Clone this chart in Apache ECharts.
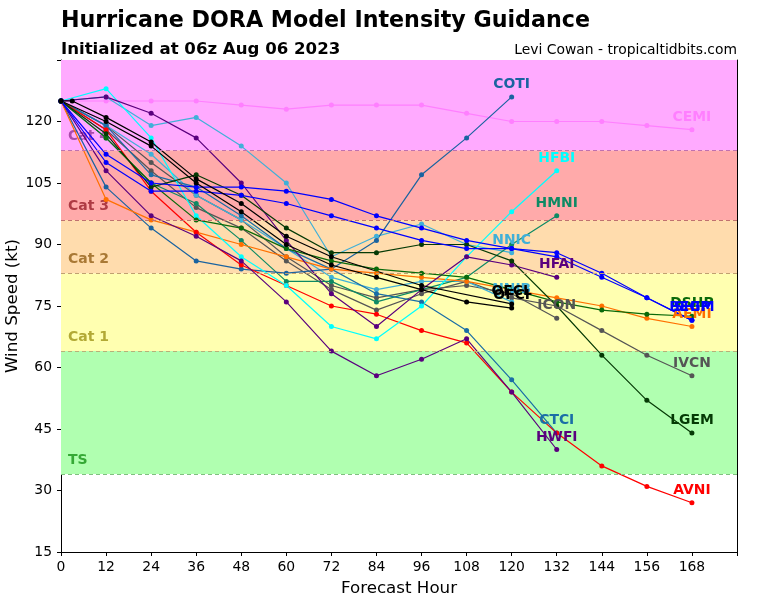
<!DOCTYPE html>
<html><head><meta charset="utf-8">
<script src="https://cdn.jsdelivr.net/npm/echarts/dist/echarts.min.js"></script>
<style>html,body{margin:0;padding:0;background:#fff}#c{width:768px;height:600px}</style>
</head><body><div id="c"></div>
<script>
// ---- data ----
const hours = [0,12,24,36,48,60,72,84,96,108,120,132,144,156,168];
const xTicks = [0,12,24,36,48,60,72,84,96,108,120,132,144,156,168];
const yTicks = [15,30,45,60,75,90,105,120];

const CEMI = [125,125,125,125,124,123,124,124,124,122,120,120,120,119,118];
const COTI = [125,104,94,86,84,83,84,91,107,116,126];
const CTCI = [125,119,107,104,97,89,84,78,76,69,57,44];
const HFBI = [125,128,116,97,87,80,70,67,75,87,98,108];
const HMNI = [125,116,105,100,91,81,81,76,79,82,90,97];
const NNIC = [125,126,119,121,114,105,87,92,95,90,88];
const NNIB = [125,119,112,102,96,89,82,79,81,81,76];
const HFAI = [125,126,122,116,105,91,78,70,79,87,85,82];
const HWFI = [125,108,97,92,86,76,64,58,62,67,54,40];
const OFCL_hours = [0,3,12,24,36,48,60,72,96,120];
const OFCL = [125,125,121,115,106,100,92,87,80,75.5];
const OFCI = [125,120,114,105,98,90,85,82,79,76,74.5];
const ICON = [125,119,110,102,96,87,80,77,79,80,78,72];
const IVCN = [125,118,108,99,94,86,79,74,78,81,77,75,69,63,58];
const LGEM = [125,117,104,107,102,94,88,88,90,90,86,75,63,52,44];
const DSHP = [125,116,105,96,94,89,86,84,83,82,79,76,74,73,72.5];
const SHIP = [125,112,105,104,104,103,101,97,94,91,89,88,83,77,71.5];
const BEGM = [125,110,103,103,102,100,97,94,91,89,89,87,82,77,71.5];
const AEMI = [125,101,96,93,90,87,84,83,82,81,79,77,75,72,70];
const AVNI = [125,118,103,93,85,80,75,73,69,66,54,44,36,31,27];

const bandNames = ['TS','Cat 1','Cat 2','Cat 3','Cat 4'];
const bandLow  = [34,64,83,96,113];
const bandHigh = [64,83,96,113,135];

// ---- styles ----
const bandFill = ['#b0ffb0','#ffffb0','#ffdcad','#ffaaaa','#ffaaff'];
const bandText = ['rgba(40,160,40,0.9)','rgba(170,160,40,0.9)','rgba(160,110,40,0.9)','rgba(160,40,50,0.85)','rgba(150,50,150,0.8)'];
const bandEdge = ['#80c080','#b8b078','#c0a070','#c07070','#c070b0'];

const models = [
  ['CEMI', CEMI, null, '#ff7fff'],
  ['ICON', ICON, null, '#555555'],
  ['IVCN', IVCN, null, '#555555'],
  ['NNIB', NNIB, null, '#40b0d8'],
  ['NNIC', NNIC, null, '#40b0d8'],
  ['HMNI', HMNI, null, '#0e8a64'],
  ['CTCI', CTCI, null, '#1a6ea6'],
  ['COTI', COTI, null, '#1a63a0'],
  ['AEMI', AEMI, null, '#ff7000'],
  ['AVNI', AVNI, null, '#ff0000'],
  ['HFBI', HFBI, null, '#00ffff'],
  ['HWFI', HWFI, null, '#5a007e'],
  ['HFAI', HFAI, null, '#5a007e'],
  ['DSHP', DSHP, null, '#0a6a0a'],
  ['LGEM', LGEM, null, '#053a05'],
  ['SHIP', SHIP, null, '#0000ff'],
  ['BEGM', BEGM, null, '#0000ff'],
  ['OFCL', OFCL, OFCL_hours, '#000000'],
  ['OFCI', OFCI, null, '#000000']
];

const FF = 'DejaVu Sans';
const series = [];

// background bands
series.push({
  type: 'line', data: [], silent: true, z: 0,
  markArea: {
    silent: true,
    data: bandNames.map((n, i) => [
      { yAxis: bandLow[i], xAxis: 0, name: n,
        itemStyle: { color: bandFill[i] },
        label: { show: true, position: 'insideBottomLeft', distance: 7, color: bandText[i], fontFamily: FF, fontWeight: 'bold', fontSize: 14 } },
      { yAxis: bandHigh[i], xAxis: 180 }
    ])
  },
  markLine: {
    silent: true, symbol: 'none',
    label: { show: false },
    data: bandLow.map((v, i) => ({ yAxis: v, lineStyle: { color: bandEdge[i], type: [4, 3], width: 1.2 } }))
  }
});

models.forEach(([name, vals, hrs, color]) => {
  const h = hrs || hours;
  const data = vals.map((v, i) => {
    const item = { value: [h[i], v] };
    if (i === vals.length - 1) {
      item.label = { show: true, position: 'top', distance: 3, formatter: name, color: color,
        fontFamily: FF, fontWeight: 'bold', fontSize: 13.9 };
    }
    return item;
  });
  series.push({
    name, type: 'line', data, z: 3,
    symbol: 'circle', symbolSize: 5, showSymbol: true,
    lineStyle: { color, width: 1.2 },
    itemStyle: { color },
    label: { show: false },
    emphasis: { disabled: true },
    animation: false
  });
});

const chart = echarts.init(document.getElementById('c'), null, { renderer: 'canvas' });
chart.setOption({
  animation: false,
  title: [
    { text: 'Hurricane DORA Model Intensity Guidance', left: 56, top: 5, padding: [5, 5, 5, 5],
      textStyle: { fontFamily: FF, fontWeight: 'bold', fontSize: 22.2, color: '#000' } },
    { text: 'Initialized at 06z Aug 06 2023', left: 56, top: 36, padding: [5, 5, 5, 5],
      textStyle: { fontFamily: FF, fontWeight: 'bold', fontSize: 16.6, color: '#000' } },
    { text: 'Levi Cowan - tropicaltidbits.com', right: 26, top: 38, padding: [5, 5, 5, 5],
      textStyle: { fontFamily: FF, fontWeight: 'normal', fontSize: 13.9, color: '#000' } }
  ],
  grid: { left: 61, right: 31, top: 60, bottom: 48, show: false, containLabel: false, outerBoundsMode: 'none' },
  xAxis: [{
    type: 'value', min: 0, max: 180, interval: 12,
    name: 'Forecast Hour', nameLocation: 'middle', nameGap: 28, nameMoveOverlap: false,
    nameTextStyle: { fontFamily: FF, fontSize: 16.7, color: '#000' },
    axisLine: { show: true, onZero: false, lineStyle: { color: '#000', width: 1 } },
    axisTick: { show: true, inside: false, length: 4, lineStyle: { color: '#000' } },
    axisLabel: { fontFamily: FF, fontSize: 13.9, color: '#000', margin: 8,
      formatter: v => xTicks.includes(v) ? String(v) : '' },
    splitLine: { show: false }
  }, {
    type: 'value', min: 0, max: 180, position: 'top',
    axisLine: { show: true, onZero: false, lineStyle: { color: '#000', width: 1 } },
    axisTick: { show: false }, axisLabel: { show: false }, splitLine: { show: false }
  }],
  yAxis: [{
    type: 'value', min: 15, max: 135, interval: 15,
    name: 'Wind Speed (kt)', nameLocation: 'middle', nameGap: 40, nameMoveOverlap: false,
    nameTextStyle: { fontFamily: FF, fontSize: 16.7, color: '#000' },
    axisLine: { show: true, onZero: false, lineStyle: { color: '#000', width: 1 } },
    axisTick: { show: true, inside: false, length: 4, lineStyle: { color: '#000' } },
    axisLabel: { fontFamily: FF, fontSize: 13.9, color: '#000', margin: 9,
      formatter: v => yTicks.includes(v) ? String(v) : '' },
    splitLine: { show: false }
  }, {
    type: 'value', min: 15, max: 135, position: 'right',
    axisLine: { show: true, onZero: false, lineStyle: { color: '#000', width: 1 } },
    axisTick: { show: false }, axisLabel: { show: false }, splitLine: { show: false }
  }],
  series
});
</script>
</body></html>
